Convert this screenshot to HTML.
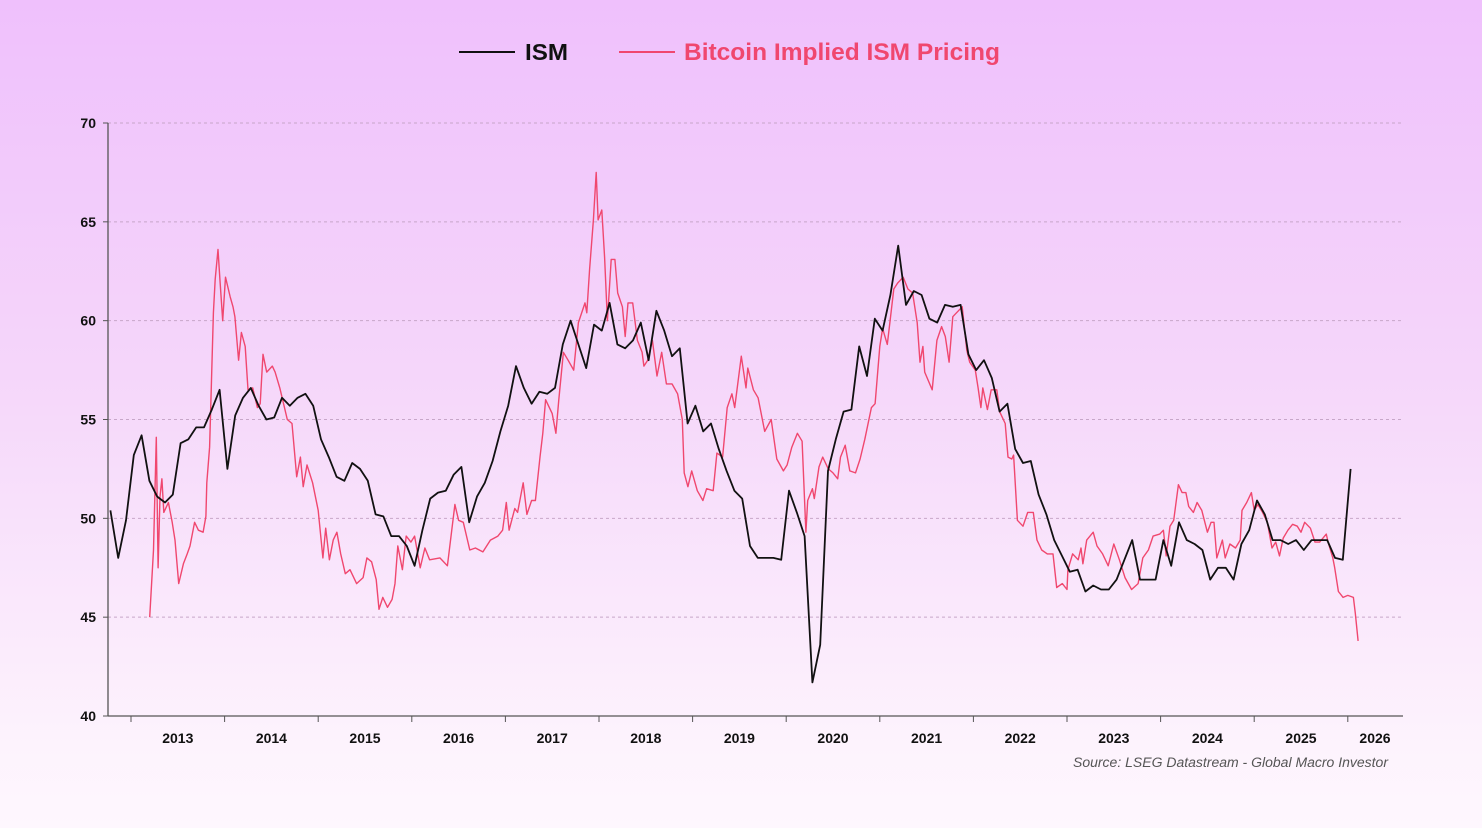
<!DOCTYPE html>
<html><head><meta charset="utf-8">
<style>
html,body{margin:0;padding:0;}
body{width:1482px;height:828px;overflow:hidden;background:linear-gradient(180deg,#efc0fc 0%,#f5d6fa 45%,#fdf3fd 90%,#fef7fe 100%);font-family:"Liberation Sans",sans-serif;}
svg{position:absolute;left:0;top:0;}
</style></head>
<body>
<svg id="chart" width="1482" height="828" xmlns="http://www.w3.org/2000/svg">
  <g>
    <line x1="459" y1="52" x2="515" y2="52" stroke="#111" stroke-width="2"/>
    <text x="525" y="60" font-size="23" font-weight="bold" fill="#111" textLength="43" lengthAdjust="spacingAndGlyphs">ISM</text>
    <line x1="619" y1="52" x2="675" y2="52" stroke="#f0476f" stroke-width="2"/>
    <text x="684" y="60" font-size="24" font-weight="bold" fill="#f0476f" textLength="316" lengthAdjust="spacingAndGlyphs">Bitcoin Implied ISM Pricing</text>
  </g>
  <g id="grid"></g>
  <g id="axes"></g>
  <g id="series"></g>
  <text x="1073" y="767" font-size="13.5" font-style="italic" fill="#555" textLength="315" lengthAdjust="spacingAndGlyphs">Source: LSEG Datastream - Global Macro Investor</text>
</svg>
<script>
const yTicks=[40,45,50,55,60,65,70];
const years=[2013,2014,2015,2016,2017,2018,2019,2020,2021,2022,2023,2024,2025,2026];
const ismStart=2012.78;
const ismValues=[50.4,48.0,49.9,53.2,54.2,51.9,51.1,50.8,51.2,53.8,
54.0,54.6,54.6,55.5,56.5,52.5,55.2,56.1,56.6,55.7,
55.0,55.1,56.1,55.7,56.1,56.3,55.7,54.0,53.1,52.1,
51.9,52.8,52.5,51.9,50.2,50.1,49.1,49.1,48.6,47.6,
49.4,51.0,51.3,51.4,52.2,52.6,49.8,51.1,51.8,52.9,
54.4,55.7,57.7,56.6,55.8,56.4,56.3,56.6,58.8,60.0,
58.8,57.6,59.8,59.5,60.9,58.8,58.6,59.0,59.9,58.0,
60.5,59.5,58.2,58.6,54.8,55.7,54.4,54.8,53.5,52.4,
51.4,51.0,48.6,48.0,48.0,48.0,47.9,51.4,50.3,49.1,
41.7,43.6,52.4,54.0,55.4,55.5,58.7,57.2,60.1,59.5,
61.3,63.8,60.8,61.5,61.3,60.1,59.9,60.8,60.7,60.8,
58.3,57.5,58.0,57.1,55.4,55.8,53.5,52.8,52.9,51.2,
50.2,48.9,48.1,47.3,47.4,46.3,46.6,46.4,46.4,46.9,
47.9,48.9,46.9,46.9,46.9,48.9,47.6,49.8,48.9,48.7,
48.4,46.9,47.5,47.5,46.9,48.7,49.4,50.9,50.2,48.9,
48.9,48.7,48.9,48.4,48.9,48.9,48.9,48.0,47.9,52.5];
const btcDates=[2013.20,2013.24,2013.27,2013.29,2013.31,2013.33,2013.35,2013.40,2013.44,2013.47,2013.51,2013.56,2013.60,2013.63,2013.68,2013.72,2013.77,2013.80,2013.81,2013.84,2013.88,2013.90,2013.93,2013.95,2013.98,2014.01,2014.06,2014.09,2014.11,2014.15,2014.18,2014.22,2014.25,2014.30,2014.35,2014.38,2014.41,2014.45,2014.51,2014.54,2014.59,2014.62,2014.67,2014.72,2014.77,2014.81,2014.84,2014.88,2014.94,2015.00,2015.05,2015.08,2015.12,2015.16,2015.20,2015.24,2015.29,2015.34,2015.41,2015.48,2015.52,2015.57,2015.62,2015.65,2015.69,2015.74,2015.79,2015.82,2015.85,2015.90,2015.94,2015.99,2016.03,2016.09,2016.14,2016.19,2016.30,2016.38,2016.46,2016.50,2016.55,2016.62,2016.68,2016.76,2016.84,2016.92,2016.97,2017.01,2017.04,2017.10,2017.13,2017.19,2017.23,2017.28,2017.32,2017.37,2017.40,2017.43,2017.50,2017.54,2017.57,2017.62,2017.67,2017.73,2017.78,2017.85,2017.87,2017.90,2017.94,2017.97,2017.99,2018.03,2018.06,2018.09,2018.13,2018.17,2018.20,2018.25,2018.28,2018.31,2018.36,2018.41,2018.46,2018.48,2018.52,2018.57,2018.62,2018.67,2018.72,2018.78,2018.84,2018.89,2018.91,2018.95,2018.99,2019.05,2019.11,2019.15,2019.22,2019.26,2019.32,2019.37,2019.42,2019.45,2019.52,2019.57,2019.59,2019.65,2019.70,2019.77,2019.84,2019.90,2019.97,2020.01,2020.06,2020.12,2020.17,2020.21,2020.23,2020.28,2020.30,2020.35,2020.39,2020.45,2020.50,2020.55,2020.58,2020.63,2020.68,2020.74,2020.79,2020.84,2020.91,2020.95,2021.00,2021.03,2021.08,2021.11,2021.15,2021.19,2021.25,2021.30,2021.35,2021.40,2021.43,2021.46,2021.48,2021.56,2021.61,2021.66,2021.70,2021.74,2021.78,2021.84,2021.88,2021.93,2021.96,2022.02,2022.05,2022.08,2022.10,2022.15,2022.19,2022.25,2022.28,2022.34,2022.37,2022.41,2022.43,2022.47,2022.53,2022.58,2022.64,2022.68,2022.73,2022.79,2022.85,2022.89,2022.95,2023.00,2023.01,2023.06,2023.12,2023.15,2023.17,2023.21,2023.28,2023.32,2023.38,2023.44,2023.50,2023.56,2023.62,2023.69,2023.76,2023.81,2023.87,2023.92,2023.99,2024.03,2024.06,2024.10,2024.14,2024.19,2024.23,2024.27,2024.30,2024.35,2024.39,2024.44,2024.50,2024.54,2024.57,2024.60,2024.66,2024.69,2024.74,2024.80,2024.85,2024.87,2024.92,2024.97,2025.00,2025.04,2025.09,2025.14,2025.19,2025.23,2025.27,2025.31,2025.36,2025.41,2025.46,2025.50,2025.54,2025.60,2025.65,2025.70,2025.77,2025.79,2025.84,2025.86,2025.90,2025.95,2026.00,2026.06,2026.08,2026.11];
const btcValues=[45.0,48.4,54.1,47.5,51.1,52.0,50.3,50.8,49.8,48.9,46.7,47.7,48.2,48.6,49.8,49.4,49.3,50.1,51.8,53.6,60.4,62.1,63.6,62.1,60.0,62.2,61.2,60.7,60.2,58.0,59.4,58.7,56.5,56.6,55.6,55.8,58.3,57.4,57.7,57.4,56.6,56.0,55.0,54.8,52.1,53.1,51.6,52.7,51.8,50.4,48.0,49.5,47.9,48.9,49.3,48.2,47.2,47.4,46.7,47.0,48.0,47.8,46.9,45.4,46.0,45.5,45.9,46.7,48.6,47.4,49.1,48.8,49.1,47.5,48.5,47.9,48.0,47.6,50.7,49.9,49.8,48.4,48.5,48.3,48.9,49.1,49.4,50.8,49.4,50.5,50.3,51.8,50.2,50.9,50.9,53.1,54.3,56.0,55.3,54.3,56.0,58.4,58.0,57.5,59.9,60.9,60.4,62.6,65.1,67.5,65.1,65.6,63.2,60.0,63.1,63.1,61.4,60.7,59.2,60.9,60.9,59.0,58.4,57.7,58.0,59.0,57.2,58.4,56.8,56.8,56.3,55.0,52.3,51.6,52.4,51.4,50.9,51.5,51.4,53.3,53.1,55.6,56.3,55.6,58.2,56.6,57.6,56.5,56.1,54.4,55.0,53.0,52.4,52.7,53.6,54.3,53.9,49.3,50.9,51.5,51.0,52.6,53.1,52.5,52.3,52.0,53.1,53.7,52.4,52.3,53.0,54.0,55.6,55.8,58.7,59.6,58.8,60.0,61.6,61.9,62.2,61.6,61.4,59.9,57.9,58.7,57.4,56.5,59.0,59.7,59.2,57.9,60.2,60.5,60.7,58.5,57.9,57.5,56.6,55.6,56.6,55.5,56.5,56.5,55.4,54.8,53.1,53.0,53.2,49.9,49.6,50.3,50.3,48.9,48.4,48.2,48.2,46.5,46.7,46.4,47.4,48.2,47.9,48.5,47.7,48.9,49.3,48.6,48.2,47.6,48.7,47.9,47.0,46.4,46.7,48.0,48.4,49.1,49.2,49.4,48.1,49.6,49.9,51.7,51.3,51.3,50.6,50.3,50.8,50.4,49.3,49.8,49.8,48.0,48.9,48.0,48.7,48.5,48.9,50.4,50.8,51.3,50.4,50.7,50.3,49.8,48.5,48.8,48.1,49.0,49.4,49.7,49.6,49.3,49.8,49.5,48.8,48.8,49.2,48.8,48.0,47.5,46.3,46.0,46.1,46.0,45.2,43.8];

const NS='http://www.w3.org/2000/svg';
const L=108,R=1403,T=123,B=716;
const yMin=40,yMax=70;
function yS(v){return B-(v-yMin)/(yMax-yMin)*(B-T);}
function xS(yr){return 131+(yr-2013)*93.6;}
function mk(tag,attrs,parent){const e=document.createElementNS(NS,tag);for(const k in attrs)e.setAttribute(k,attrs[k]);parent.appendChild(e);return e;}
const grid=document.getElementById('grid'),axes=document.getElementById('axes'),series=document.getElementById('series');

yTicks.forEach(v=>{
  const y=yS(v);
  if(v>yMin){
    const g=mk('line',{x1:L,x2:R,y1:y,y2:y,stroke:'#c7a6c9','stroke-width':1,'stroke-dasharray':'3,3'},grid);
    
    
  }
  const t=mk('line',{x1:L-5,x2:L,y1:y,y2:y,stroke:'#555','stroke-width':1},axes);
  
  
  const lb=mk('text',{x:L-12,y:y+5,'font-size':14,'font-weight':'bold','text-anchor':'end',fill:'#111'},axes);
  lb.textContent=v;
  
  
});
const ya=mk('line',{x1:L,x2:L,y1:T,y2:B,stroke:'#555','stroke-width':1.3},axes);


const xa=mk('line',{x1:L,x2:R,y1:B,y2:B,stroke:'#555','stroke-width':1.3},axes);


years.forEach(yr=>{
  const x=xS(yr);
  const t=mk('line',{x1:x,x2:x,y1:B,y2:B+6,stroke:'#555','stroke-width':1},axes);
  
  
  const lx=Math.min(xS(yr+0.5),1375);
  const lb=mk('text',{x:lx,y:B+27,'font-size':14,'font-weight':'bold','text-anchor':'middle',fill:'#111'},axes);
  lb.textContent=yr;
  
  
});

const btcPts=btcDates.map((d,i)=>xS(d).toFixed(1)+','+yS(btcValues[i]).toFixed(1)).join(' ');
const bl=mk('polyline',{points:btcPts,fill:'none',stroke:'#f0476f','stroke-width':1.4,'stroke-linejoin':'round'},series);


const ismPts=ismValues.map((v,i)=>xS(ismStart+i/12).toFixed(1)+','+yS(v).toFixed(1)).join(' ');
const il=mk('polyline',{points:ismPts,fill:'none',stroke:'#111','stroke-width':1.8,'stroke-linejoin':'round'},series);


</script>
</body></html>
